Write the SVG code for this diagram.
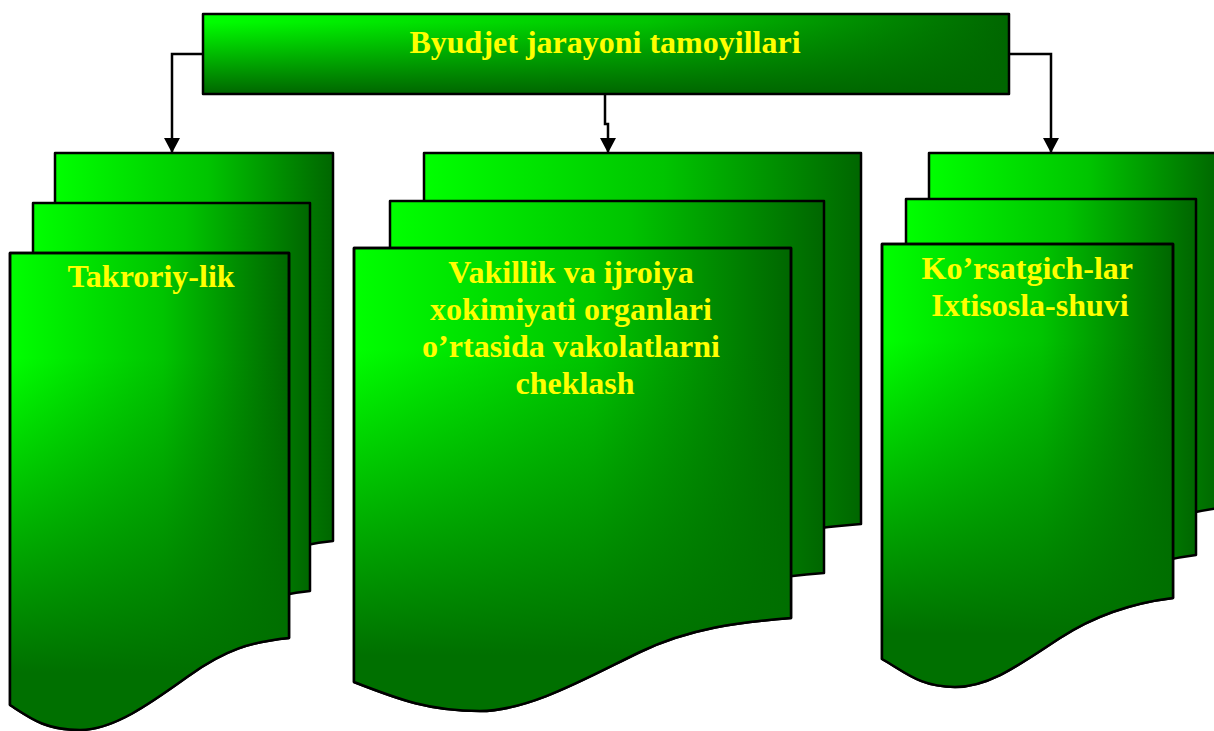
<svg xmlns="http://www.w3.org/2000/svg" width="1214" height="731" viewBox="0 0 1214 731">
<style>
.base{fill:url(#hgrad);stroke:#000;stroke-width:2.5;stroke-linejoin:round}
.shade{fill:url(#vshade);stroke:none}
.edge{fill:none;stroke:#000;stroke-width:2.5;stroke-linejoin:round}
.lbl{font-family:"Liberation Serif","Times New Roman",serif;font-weight:bold;font-size:32px;fill:#FFFF00;text-anchor:middle}
.conn{fill:none;stroke:#000;stroke-width:2.5;marker-end:url(#arrow)}
</style>
<defs>
<linearGradient id="hgrad" x1="0" y1="0" x2="1" y2="0">
<stop offset="0" stop-color="#00FF00"/>
<stop offset="0.55" stop-color="#00C400"/>
<stop offset="1" stop-color="#006600"/>
</linearGradient>
<linearGradient id="vshade" x1="0" y1="0" x2="0" y2="1">
<stop offset="0.22" stop-color="#007000" stop-opacity="0"/>
<stop offset="0.88" stop-color="#007000" stop-opacity="1"/>
</linearGradient>
<linearGradient id="vshadeTop" x1="0" y1="0" x2="0" y2="1">
<stop offset="0.1" stop-color="#006600" stop-opacity="0"/>
<stop offset="1" stop-color="#006600" stop-opacity="1"/>
</linearGradient>
<marker id="arrow" viewBox="0 0 15 16" refX="15" refY="8" markerWidth="15" markerHeight="16" orient="auto" markerUnits="userSpaceOnUse">
<path d="M0,0 L15,8 L0,16 Z" fill="#000"/>
</marker>
</defs>
<rect width="1214" height="731" fill="#FFFFFF"/>

<g id="node-top">
<rect x="203" y="14" width="806" height="80" fill="url(#hgrad)"/>
<rect x="203" y="14" width="806" height="80" fill="url(#vshadeTop)"/>
<rect x="203" y="14" width="806" height="80" class="edge" stroke="#222"/>
<text x="605" y="53" class="lbl">Byudjet jarayoni tamoyillari</text>
</g>

<g id="node-takroriylik">
<path class="base" d="M55,153 H333 V541 C295,545 270,553 235,578 S160,633 125,633 S75,621 55,608 Z"/>
<path class="base" d="M33,203 H310 V591 C273,595 248,603 213,628 S138,683 103,683 S53,671 33,658 Z"/>
<path class="base" d="M10,253 H289 V638 C250,642 225,650 190,675 S115,730 80,730 S30,718 10,705 Z"/>
<path class="shade" d="M10,253 H289 V638 C250,642 225,650 190,675 S115,730 80,730 S30,718 10,705 Z"/>
<path class="edge" d="M10,253 H289 V638 C250,642 225,650 190,675 S115,730 80,730 S30,718 10,705 Z"/>
<text x="151" y="287" class="lbl">Takroriy-lik</text>
</g>

<g id="node-vakillik">
<path class="base" d="M424,153 H861 V524 C810,528 760,534 710,558 S600,617 550,617 S470,606 424,588 Z"/>
<path class="base" d="M390,201 H824 V573 C775,577 725,583 675,607 S565,666 515,666 S435,655 390,637 Z"/>
<path class="base" d="M354,248 H791 V618 C740,622 690,628 640,652 S530,711 480,711 S400,700 354,682 Z"/>
<path class="shade" d="M354,248 H791 V618 C740,622 690,628 640,652 S530,711 480,711 S400,700 354,682 Z"/>
<path class="edge" d="M354,248 H791 V618 C740,622 690,628 640,652 S530,711 480,711 S400,700 354,682 Z"/>
<text class="lbl">
<tspan x="575" y="283">Vakillik va ijroiya</tspan>
<tspan x="575" y="320">xokimiyati organlari</tspan>
<tspan x="575" y="357">o’rtasida vakolatlarni</tspan>
<tspan x="575" y="394">cheklash</tspan>
</text>
</g>

<g id="node-korsatgich">
<path class="base" d="M929,153 H1220 V508 C1187,512 1147,522 1107,548 S1037,597 1002,597 S952,582 929,569 Z"/>
<path class="base" d="M906,199 H1196 V555 C1164,559 1124,569 1084,595 S1014,644 979,644 S929,629 906,616 Z"/>
<path class="base" d="M882,244 H1173 V598 C1140,602 1100,612 1060,638 S990,687 955,687 S905,672 882,659 Z"/>
<path class="shade" d="M882,244 H1173 V598 C1140,602 1100,612 1060,638 S990,687 955,687 S905,672 882,659 Z"/>
<path class="edge" d="M882,244 H1173 V598 C1140,602 1100,612 1060,638 S990,687 955,687 S905,672 882,659 Z"/>
<text class="lbl">
<tspan x="1031" y="279">Ko’rsatgich-lar</tspan>
<tspan x="1030" y="316">Ixtisosla-shuvi</tspan>
</text>
</g>

<g id="connectors">
<path class="conn" d="M203,54 H172 V153"/>
<path class="conn" d="M605,94 V124 H608 V153"/>
<path class="conn" d="M1009,54 H1051 V153"/>
</g>
</svg>
